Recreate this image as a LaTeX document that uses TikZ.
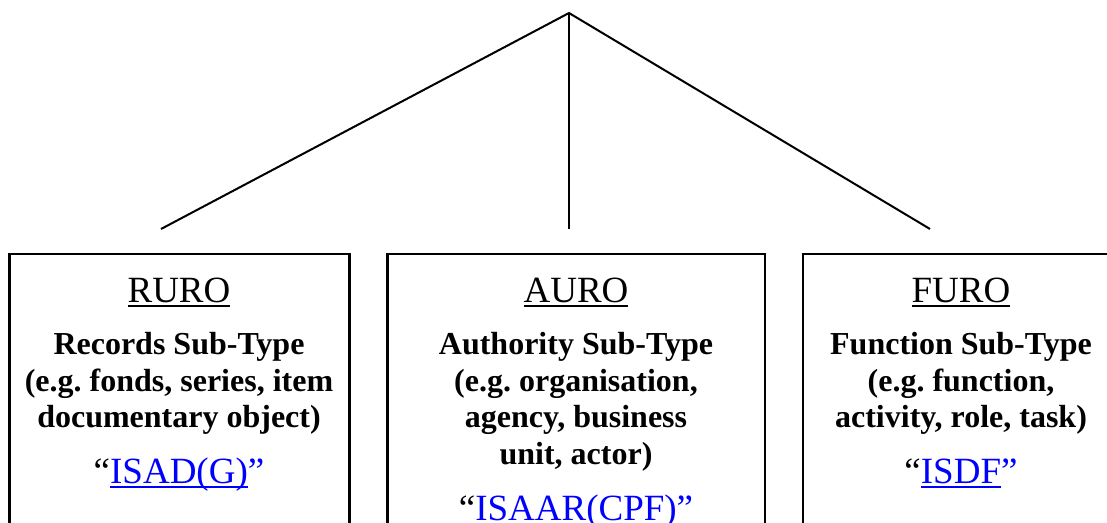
\documentclass[tikz,border=0pt]{standalone}
\usepackage{fontspec}
\setmainfont{Liberation Serif}
\frenchspacing
\definecolor{linkblue}{RGB}{0,0,255}
\newcommand{\linkul}[1]{\setbox0\hbox{\color{linkblue}#1}\rlap{\color{linkblue}\rule[-5pt]{\wd0}{2pt}}\box0}
\newcommand{\headul}[1]{\setbox0\hbox{#1}\rlap{\rule[-4.5pt]{\wd0}{2pt}}\box0}
\begin{document}
\begin{tikzpicture}[x=1pt,y=-1pt,
  boxline/.style={draw, line width=2.7pt},
  conn/.style={line width=2pt},
  head/.style={anchor=base, inner sep=0pt, font=\fontsize{37}{42}\selectfont},
  sub/.style={anchor=base, inner sep=0pt, font=\fontsize{32}{36.5}\selectfont\bfseries},
  link/.style={anchor=base, inner sep=0pt, font=\fontsize{37}{42}\selectfont}]
\useasboundingbox (0,0) rectangle (1107,522);
\clip (0,0) rectangle (1107,522);

% connectors
\coordinate (apex) at (569,13);
\coordinate (endL) at (161,229);
\coordinate (endM) at (569,229);
\coordinate (endR) at (930,229);
\draw[conn] (endL) -- (apex) -- (endR);
\draw[conn] (apex) -- (endM);

% boxes (open beyond bottom edge)
\draw[boxline] (9.5,560) -- (9.5,254) -- (349.2,254) -- (349.2,560);
\draw[boxline] (387.2,560) -- (387.2,254) -- (765,254) -- (765,560);
\draw[boxline] (803,560) -- (803,254) -- (1120,254) -- (1120,560);

% box 1
\node[head] (ruro) at (179,302) {\headul{RURO}};
\node[sub] (r1) at (179,354.5) {Records Sub-Type};
\node[sub] (r2) at (179,391) {(e.g. fonds, series, item};
\node[sub] (r3) at (179,427.5) {documentary object)};
\node[link] (rl) at (179,483) {“\linkul{ISAD(G)}”};

% box 2
\node[head] (auro) at (576,302) {\headul{AURO}};
\node[sub] (a1) at (576,354.5) {Authority Sub-Type};
\node[sub] (a2) at (576,391) {(e.g. organisation,};
\node[sub] (a3) at (576,427.5) {agency, business};
\node[sub] (a4) at (576,464) {unit, actor)};
\node[link] (al) at (576,520) {“\linkul{ISAAR(CPF)}”};

% box 3
\node[head] (furo) at (961,302) {\headul{FURO}};
\node[sub] (f1) at (961,354.5) {Function Sub-Type};
\node[sub] (f2) at (961,391) {(e.g. function,};
\node[sub] (f3) at (961,427.5) {activity, role, task)};
\node[link] (fl) at (961,483) {“\linkul{ISDF}”};
\end{tikzpicture}
\end{document}
